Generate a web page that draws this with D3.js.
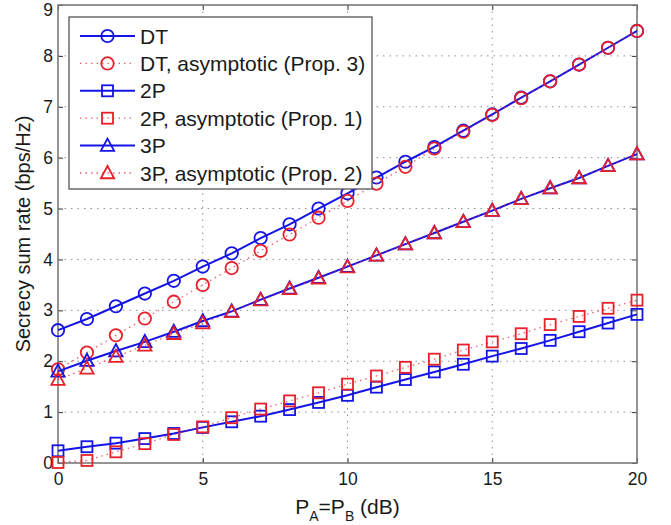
<!DOCTYPE html>
<html>
<head>
<meta charset="utf-8">
<script src="https://cdn.jsdelivr.net/npm/d3@7"></script>
<style>
  html, body { margin: 0; padding: 0; background: #fff; }
  svg { display: block; font-family: "Liberation Sans", Arial, Helvetica, sans-serif; }
</style>
</head>
<body>
<svg id="chart" width="671" height="525"></svg>
<script>
// Transmit power in dB (x axis)
const powerDb = d3.range(0, 21);

// Secrecy sum rate (bps/Hz) for each scheme
const dtExact  = [2.61, 2.83, 3.08, 3.33, 3.58, 3.86, 4.12, 4.42, 4.69, 5.00, 5.30, 5.61, 5.92, 6.21, 6.53, 6.85, 7.18, 7.50, 7.83, 8.16, 8.49];
const dtAsym   = [1.84, 2.17, 2.51, 2.84, 3.17, 3.50, 3.83, 4.17, 4.49, 4.82, 5.15, 5.49, 5.82, 6.18, 6.51, 6.84, 7.17, 7.50, 7.83, 8.16, 8.49];
const twoExact = [0.24, 0.32, 0.39, 0.48, 0.58, 0.70, 0.81, 0.92, 1.05, 1.19, 1.33, 1.49, 1.64, 1.79, 1.94, 2.10, 2.25, 2.41, 2.58, 2.75, 2.92];
const twoAsym  = [0.01, 0.05, 0.22, 0.38, 0.56, 0.71, 0.89, 1.06, 1.22, 1.38, 1.55, 1.71, 1.88, 2.04, 2.22, 2.38, 2.54, 2.72, 2.88, 3.04, 3.20];
const threeExact = [1.80, 2.01, 2.20, 2.38, 2.58, 2.79, 2.98, 3.21, 3.43, 3.64, 3.86, 4.08, 4.30, 4.52, 4.74, 4.96, 5.19, 5.40, 5.60, 5.84, 6.07];
const threeAsym  = [1.64, 1.86, 2.09, 2.31, 2.54, 2.75, 2.97, 3.20, 3.42, 3.63, 3.85, 4.08, 4.30, 4.52, 4.74, 4.96, 5.19, 5.40, 5.60, 5.84, 6.07];

// Axis ticks
const xTicks = [0, 5, 10, 15, 20];
const yTicks = [0, 1, 2, 3, 4, 5, 6, 7, 8, 9];

// Legend entries
const legendLabels = ["DT", "DT, asymptotic (Prop. 3)", "2P", "2P, asymptotic (Prop. 1)", "3P", "3P, asymptotic (Prop. 2)"];

const BLUE = "#1414e6";
const RED = "#e8202a";

const series = [
  { values: dtExact,    marker: "circle",   color: BLUE, dotted: false },
  { values: dtAsym,     marker: "circle",   color: RED,  dotted: true },
  { values: twoExact,   marker: "square",   color: BLUE, dotted: false },
  { values: twoAsym,    marker: "square",   color: RED,  dotted: true },
  { values: threeExact, marker: "triangle", color: BLUE, dotted: false },
  { values: threeAsym,  marker: "triangle", color: RED,  dotted: true }
];

const plot = { left: 58, right: 637, top: 5, bottom: 463 };

const svg = d3.select("#chart");

const x = d3.scaleLinear().domain([0, 20]).range([plot.left, plot.right]);
const y = d3.scaleLinear().domain([0, 9]).range([plot.bottom, plot.top]);

const AXIS = "#7a7a7a";

// Grid lines
const grid = svg.append("g").attr("class", "grid")
  .attr("stroke", "#8f8f8f").attr("stroke-width", 1).attr("stroke-dasharray", "1.5,5");
grid.selectAll("line.gx").data(xTicks.slice(1, -1)).join("line")
  .attr("x1", d => x(d)).attr("x2", d => x(d))
  .attr("y1", plot.top).attr("y2", plot.bottom);
grid.selectAll("line.gy").data(yTicks.slice(1, -1)).join("line")
  .attr("y1", d => y(d)).attr("y2", d => y(d))
  .attr("x1", plot.left).attr("x2", plot.right);

// Axes with inward ticks
const tickLen = 5;
const xAxisB = d3.axisBottom(x).tickValues(xTicks).tickSize(-tickLen).tickPadding(10).tickFormat(d3.format("d"));
const xAxisT = d3.axisTop(x).tickValues(xTicks).tickSize(-tickLen).tickFormat("");
const yAxisL = d3.axisLeft(y).tickValues(yTicks).tickSize(-tickLen).tickPadding(5).tickFormat(d3.format("d"));
const yAxisR = d3.axisRight(y).tickValues(yTicks).tickSize(-tickLen).tickFormat("");

function styleAxis(g) {
  g.select(".domain").remove();
  g.selectAll(".tick line").attr("stroke", "#333").attr("stroke-width", 1);
  g.selectAll(".tick text").attr("fill", "#1a1a1a").style("font-size", "17.5px");
}

svg.append("g").attr("transform", `translate(0,${plot.bottom})`).call(xAxisB).call(styleAxis);
svg.append("g").attr("transform", `translate(0,${plot.top})`).call(xAxisT).call(styleAxis);
const yAxisG = svg.append("g").attr("transform", `translate(${plot.left},0)`).call(yAxisL).call(styleAxis);
svg.append("g").attr("transform", `translate(${plot.right},0)`).call(yAxisR).call(styleAxis);
// keep the top label inside the canvas
yAxisG.selectAll(".tick text").filter(d => d === 9).attr("dy", "0.6em");

// Plot frame
svg.append("rect")
  .attr("x", plot.left).attr("y", plot.top)
  .attr("width", plot.right - plot.left).attr("height", plot.bottom - plot.top)
  .attr("fill", "none").attr("stroke", AXIS).attr("stroke-width", 1.6);

// Marker shapes
function drawMarker(g, type, cx, cy, color) {
  if (type === "circle") {
    g.append("circle").attr("cx", cx).attr("cy", cy).attr("r", 6.2)
      .attr("fill", "none").attr("stroke", color).attr("stroke-width", 1.8);
  } else if (type === "square") {
    g.append("rect").attr("x", cx - 5.5).attr("y", cy - 5.5).attr("width", 11).attr("height", 11)
      .attr("fill", "none").attr("stroke", color).attr("stroke-width", 1.8);
  } else {
    const h = 7;
    g.append("path")
      .attr("d", `M${cx},${cy - h}L${cx + h * 0.95},${cy + h * 0.75}L${cx - h * 0.95},${cy + h * 0.75}Z`)
      .attr("fill", "none").attr("stroke", color).attr("stroke-width", 1.8);
  }
}

const line = d3.line().x((d, i) => x(powerDb[i])).y(d => y(d));

const marks = svg.append("g").attr("class", "series");
series.forEach(s => {
  marks.append("path").datum(s.values)
    .attr("d", line)
    .attr("fill", "none")
    .attr("stroke", s.color)
    .attr("stroke-width", s.dotted ? 1.3 : 2)
    .attr("stroke-dasharray", s.dotted ? "1.5,4" : null)
    .attr("opacity", s.dotted ? 0.7 : 1);
  const mg = marks.append("g");
  s.values.forEach((v, i) => drawMarker(mg, s.marker, x(powerDb[i]), y(v), s.color));
});

// Legend
const legend = { x: 69, y: 17, w: 303, h: 172, rowH: 27.4, first: 36 };
const lg = svg.append("g").attr("class", "legend");
lg.append("rect")
  .attr("x", legend.x).attr("y", legend.y).attr("width", legend.w).attr("height", legend.h)
  .attr("fill", "#fff").attr("stroke", "#555").attr("stroke-width", 1.3);
series.forEach((s, i) => {
  const cy = legend.first + i * legend.rowH;
  lg.append("line")
    .attr("x1", 80).attr("x2", 135).attr("y1", cy).attr("y2", cy)
    .attr("stroke", s.color)
    .attr("stroke-width", s.dotted ? 1.3 : 2)
    .attr("stroke-dasharray", s.dotted ? "1.5,4" : null)
    .attr("opacity", s.dotted ? 0.7 : 1);
  drawMarker(lg, s.marker, 107.5, cy, s.color);
  lg.append("text")
    .attr("x", 140).attr("y", cy).attr("dy", "0.36em")
    .attr("fill", "#1a1a1a").style("font-size", "21px")
    .text(legendLabels[i]);
});

// Axis titles
svg.append("text")
  .attr("transform", `translate(30,${(plot.top + plot.bottom) / 2}) rotate(-90)`)
  .attr("text-anchor", "middle").attr("fill", "#1a1a1a").style("font-size", "20px")
  .text("Secrecy sum rate (bps/Hz)");

const xt = svg.append("text")
  .attr("x", (plot.left + plot.right) / 2).attr("y", 514)
  .attr("text-anchor", "middle").attr("fill", "#1a1a1a").style("font-size", "21px");
xt.append("tspan").text("P");
xt.append("tspan").attr("dy", 7).style("font-size", "14px").text("A");
xt.append("tspan").attr("dy", -7).text("=P");
xt.append("tspan").attr("dy", 7).style("font-size", "14px").text("B");
xt.append("tspan").attr("dy", -7).text(" (dB)");
</script>
</body>
</html>
